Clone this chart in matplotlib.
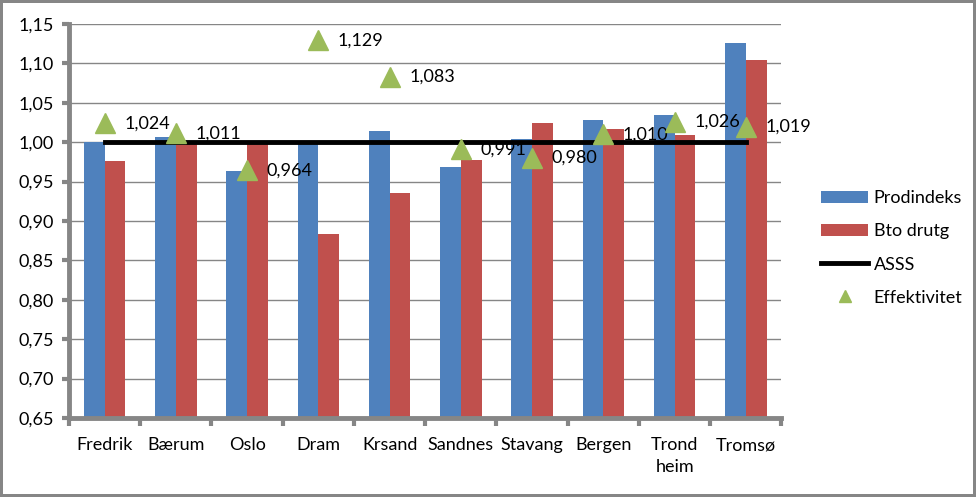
import matplotlib
matplotlib.use('Agg')
import matplotlib.pyplot as plt
from matplotlib.ticker import FuncFormatter, MultipleLocator
import numpy as np

plt.rcParams['font.family'] = ['Lato', 'DejaVu Sans']

# data
kommuner = ['Fredrik', 'Bærum', 'Oslo', 'Dram', 'Krsand', 'Sandnes',
            'Stavang', 'Bergen', 'Trond\nheim', 'Tromsø']
prodindeks = [1.000, 1.006, 0.963, 1.000, 1.014, 0.968, 1.004, 1.028, 1.035, 1.126]
bto_drutg = [0.976, 0.999, 0.998, 0.883, 0.935, 0.977, 1.024, 1.017, 1.009, 1.104]
asss = [1.0] * 10
effektivitet = [1.024, 1.011, 0.964, 1.129, 1.083, 0.991, 0.980, 1.010, 1.026, 1.019]

blue = '#4F81BD'
red = '#C0504D'
green = '#9BBB59'
grey = '#868686'

fig = plt.figure(figsize=(9.76, 4.97), dpi=100)
fig.patch.set_edgecolor(grey)
fig.patch.set_linewidth(3)
ax = fig.add_axes([0.0707, 0.159, 0.730, 0.793])

x = np.arange(len(kommuner))
w = 0.29
ax.bar(x - w / 2, prodindeks, w, color=blue, label='Prodindeks', zorder=2)
ax.bar(x + w / 2, bto_drutg, w, color=red, label='Bto drutg', zorder=2)

for xi, v in zip(x, effektivitet):
    ax.annotate(f'{v:.3f}'.replace('.', ','), (xi, v), xytext=(14, 0),
                textcoords='offset points', ha='left', va='center',
                fontsize=13, zorder=3)

ax.plot(x, asss, color='black', lw=3.5, label='ASSS', zorder=4)
ax.plot(x, effektivitet, ls='none', marker='^', ms=14, color=green,
        label='Effektivitet', zorder=5)

ax.set_xlim(-0.5, len(kommuner) - 0.5)
ax.set_ylim(0.65, 1.15)
ax.yaxis.set_major_locator(MultipleLocator(0.05))
ax.yaxis.set_major_formatter(FuncFormatter(lambda v, p: f'{v:.2f}'.replace('.', ',')))
ax.yaxis.grid(True, color=grey, lw=1, zorder=0)
ax.set_axisbelow(True)

ax.set_xticks(x)
ax.set_xticklabels(kommuner, fontsize=13, linespacing=1.45)
ax.set_xticks(np.arange(-0.5, len(kommuner)), minor=True)
ax.tick_params(axis='x', which='major', length=0, pad=14)
ax.tick_params(axis='x', which='minor', length=6, width=3, color=grey)
ax.tick_params(axis='y', length=5, width=3, color=grey, labelsize=13, pad=6)

for s in ['top', 'right']:
    ax.spines[s].set_visible(False)
for s in ['left', 'bottom']:
    ax.spines[s].set_color(grey)
    ax.spines[s].set_linewidth(3.5)

handles, labels = ax.get_legend_handles_labels()
order = [2, 3, 0, 1]
leg_h = [handles[i] for i in order]
leg_l = [labels[i] for i in order]
fig.legend(leg_h, leg_l, loc='upper left', bbox_to_anchor=(0.825, 0.65),
           frameon=False, fontsize=13, labelspacing=0.95, handlelength=2.6,
           handletextpad=0.3, markerscale=0.6)

fig.savefig('out.png', dpi=100)
